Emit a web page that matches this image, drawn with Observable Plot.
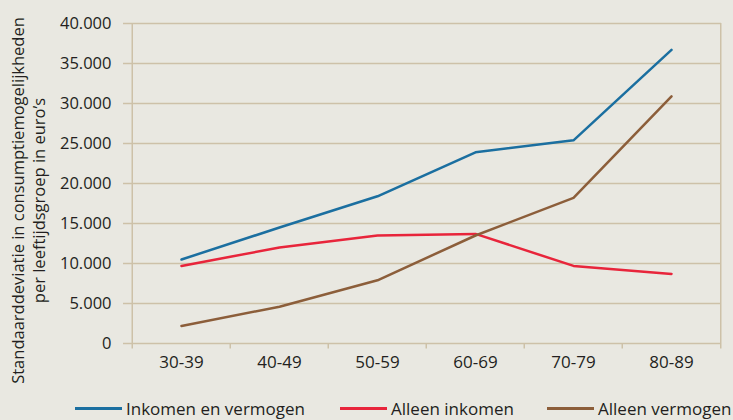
<!DOCTYPE html>
<html><head><meta charset="utf-8">
<script src="https://cdn.jsdelivr.net/npm/d3@7"></script>
<script src="https://cdn.jsdelivr.net/npm/@observablehq/plot@0.6"></script>
<style>
html,body{margin:0;padding:0;background:#e9e8e1;}
#wrap{position:relative;width:733px;height:420px;overflow:hidden;font-family:"Open Sans",sans-serif;color:#231f20;}
#legend{position:absolute;left:0;top:397px;width:733px;height:24px;font-size:17px;}
.item{position:absolute;top:0;display:flex;align-items:center;white-space:nowrap;}
.sw{display:inline-block;width:47px;height:3px;margin-right:4px;}
</style></head>
<body><div id="wrap"></div>
<script>
const ageGroups = ["30-39","40-49","50-59","60-69","70-79","80-89"];
const inkomenEnVermogen = [10500, 14500, 18400, 23900, 25400, 36700];
const alleenInkomen = [9700, 12000, 13500, 13700, 9700, 8700];
const alleenVermogen = [2200, 4600, 7900, 13500, 18200, 30900];
const seriesNames = ["Inkomen en vermogen","Alleen inkomen","Alleen vermogen"];
const seriesColors = ["#1b6fa0","#e8253b","#8c5e3a"];
const yTicks = [0,5000,10000,15000,20000,25000,30000,35000,40000];
const yLabel = "Standaarddeviatie in consumptiemogelijkheden\nper leeftijdsgroep in euro\u2019s";

const seriesValues = [inkomenEnVermogen, alleenInkomen, alleenVermogen];
const data = seriesNames.flatMap((s, i) => ageGroups.map((a, j) => ({serie: s, age: a, value: seriesValues[i][j]})));
const fmt = v => v === 0 ? "0" : d3.format(",")(v).replace(/,/g, ".");

const grid = "#cdc1a8";
const W = 733, H = 420, mL = 130, mR = 12, mT = 23, mB = 77;
const half = (W - mL - mR) / ageGroups.length / 2;

const chart = Plot.plot({
  width: W, height: H,
  marginLeft: mL, marginRight: mR, marginTop: mT, marginBottom: mB,
  style: {background: "transparent", fontFamily: "'Open Sans', sans-serif", fontSize: "15px", color: "#231f20"},
  x: {type: "band", domain: ageGroups, padding: 0, label: null},
  y: {domain: [0, 40000], label: null},
  color: {domain: seriesNames, range: seriesColors},
  marks: [
    Plot.ruleY(yTicks, {stroke: grid, strokeWidth: 1.5}),
    Plot.ruleX([ageGroups[0]], {dx: -half, stroke: grid, strokeWidth: 1.5, y1: 0, y2: 40000}),
    Plot.ruleX([ageGroups[ageGroups.length - 1]], {dx: half, stroke: grid, strokeWidth: 1.5, y1: -700, y2: 40000}),
    Plot.ruleX(ageGroups, {dx: -half, stroke: grid, strokeWidth: 1.5, y1: -700, y2: 0}),
    Plot.axisY({ticks: yTicks, tickFormat: fmt, tickSize: 7, stroke: grid, strokeWidth: 1.5, tickPadding: 12, fontSize: 16.5}),
    Plot.axisX({tickSize: 0, tickPadding: 12, fontSize: 17}),
    Plot.line(data, {x: "age", y: "value", stroke: "serie", strokeWidth: 2.5, curve: "linear"}),
    Plot.text([yLabel], {frameAnchor: "left", dx: -103, dy: 17, rotate: -90, fontSize: 16.5, lineHeight: 1.28, textAnchor: "middle", lineAnchor: "middle", fill: "#231f20"})
  ]
});
document.getElementById("wrap").appendChild(chart);

const legend = document.createElement("div");
legend.id = "legend";
const lefts = [75, 340, 547];
seriesNames.forEach((s, i) => {
  const it = document.createElement("div");
  it.className = "item";
  it.style.left = lefts[i] + "px";
  it.innerHTML = `<span class="sw" style="background:${seriesColors[i]}"></span><span>${s}</span>`;
  legend.appendChild(it);
});
document.getElementById("wrap").appendChild(legend);
</script></body></html>
